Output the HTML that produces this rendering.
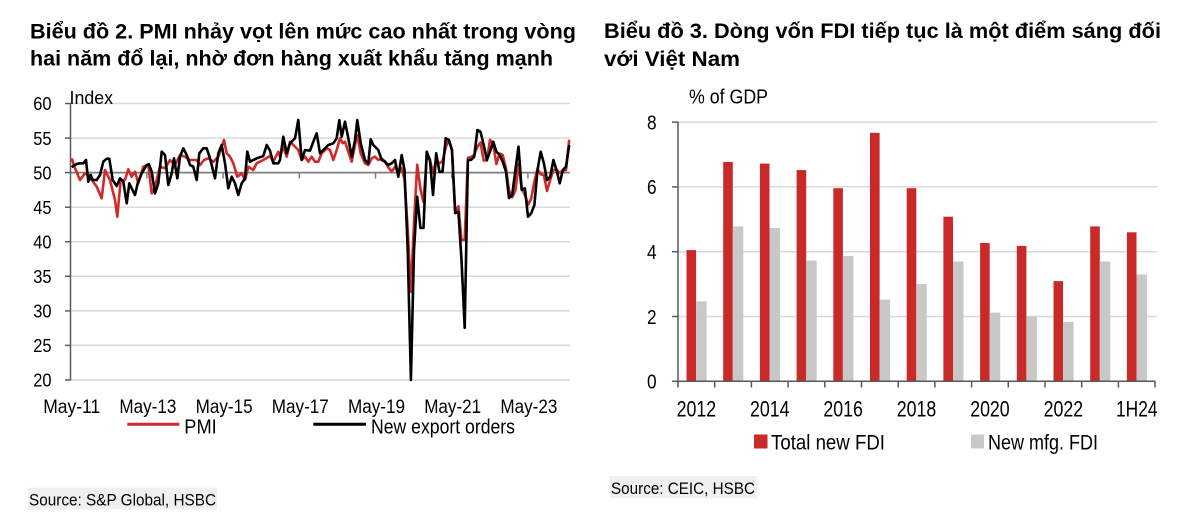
<!DOCTYPE html>
<html><head><meta charset="utf-8"><style>
html,body{margin:0;padding:0;background:#fff;}
svg{display:block;}
text{font-family:"Liberation Sans","DejaVu Sans",sans-serif;fill:#000;}
.t{font-weight:bold;font-size:21px;}
</style></head><body>
<svg width="1200" height="522" viewBox="0 0 1200 522" xmlns="http://www.w3.org/2000/svg">
<rect width="1200" height="522" fill="#fff"/>
<!-- Titles -->
<text class="t" x="30" y="38.3" textLength="546" lengthAdjust="spacingAndGlyphs">Biểu đồ 2. PMI nhảy vọt lên mức cao nhất trong vòng</text>
<text class="t" x="30" y="65.5" textLength="523" lengthAdjust="spacingAndGlyphs">hai năm đổ lại, nhờ đơn hàng xuất khẩu tăng mạnh</text>
<text class="t" x="604" y="38" textLength="557" lengthAdjust="spacingAndGlyphs">Biểu đồ 3. Dòng vốn FDI tiếp tục là một điểm sáng đối</text>
<text class="t" x="604" y="66" textLength="136" lengthAdjust="spacingAndGlyphs">với Việt Nam</text>

<!-- LEFT CHART -->
<g stroke="#d9d9d9" stroke-width="1.5">
<line x1="71" y1="103.5" x2="570" y2="103.5"/>
<line x1="71" y1="138.1" x2="570" y2="138.1"/>
<line x1="71" y1="207.2" x2="570" y2="207.2"/>
<line x1="71" y1="241.7" x2="570" y2="241.7"/>
<line x1="71" y1="276.3" x2="570" y2="276.3"/>
<line x1="71" y1="310.9" x2="570" y2="310.9"/>
<line x1="71" y1="345.4" x2="570" y2="345.4"/>
<line x1="71" y1="380" x2="570" y2="380"/>
</g>
<line x1="71" y1="172.6" x2="570" y2="172.6" stroke="#7f7f7f" stroke-width="1.7"/>
<g stroke="#595959" stroke-width="1.5">
<line x1="70.5" y1="103" x2="70.5" y2="380.5"/>
<line x1="65" y1="103.5" x2="70.5" y2="103.5"/>
<line x1="65" y1="138.1" x2="70.5" y2="138.1"/>
<line x1="65" y1="172.6" x2="70.5" y2="172.6"/>
<line x1="65" y1="207.2" x2="70.5" y2="207.2"/>
<line x1="65" y1="241.7" x2="70.5" y2="241.7"/>
<line x1="65" y1="276.3" x2="70.5" y2="276.3"/>
<line x1="65" y1="310.9" x2="70.5" y2="310.9"/>
<line x1="65" y1="345.4" x2="70.5" y2="345.4"/>
<line x1="65" y1="380" x2="70.5" y2="380"/>
</g>
<g stroke="#7f7f7f" stroke-width="1.5">
<line x1="146.9" y1="172.6" x2="146.9" y2="178.5"/>
<line x1="223.1" y1="172.6" x2="223.1" y2="178.5"/>
<line x1="299.3" y1="172.6" x2="299.3" y2="178.5"/>
<line x1="375.5" y1="172.6" x2="375.5" y2="178.5"/>
<line x1="451.7" y1="172.6" x2="451.7" y2="178.5"/>
<line x1="527.9" y1="172.6" x2="527.9" y2="178.5"/>
</g>
<g font-size="18.5">
<text x="33.2" y="110.2" textLength="18.3" lengthAdjust="spacingAndGlyphs">60</text>
<text x="33.2" y="144.8" textLength="18.3" lengthAdjust="spacingAndGlyphs">55</text>
<text x="33.2" y="179.3" textLength="18.3" lengthAdjust="spacingAndGlyphs">50</text>
<text x="33.2" y="213.9" textLength="18.3" lengthAdjust="spacingAndGlyphs">45</text>
<text x="33.2" y="248.4" textLength="18.3" lengthAdjust="spacingAndGlyphs">40</text>
<text x="33.2" y="283.0" textLength="18.3" lengthAdjust="spacingAndGlyphs">35</text>
<text x="33.2" y="317.6" textLength="18.3" lengthAdjust="spacingAndGlyphs">30</text>
<text x="33.2" y="352.1" textLength="18.3" lengthAdjust="spacingAndGlyphs">25</text>
<text x="33.2" y="386.7" textLength="18.3" lengthAdjust="spacingAndGlyphs">20</text>
<text x="69.5" y="104" textLength="43.5" lengthAdjust="spacingAndGlyphs">Index</text>
</g>
<g font-size="19.5">
<text x="43.2" y="413" textLength="57" lengthAdjust="spacingAndGlyphs">May-11</text>
<text x="119.4" y="413" textLength="57" lengthAdjust="spacingAndGlyphs">May-13</text>
<text x="195.6" y="413" textLength="57" lengthAdjust="spacingAndGlyphs">May-15</text>
<text x="271.8" y="413" textLength="57" lengthAdjust="spacingAndGlyphs">May-17</text>
<text x="348" y="413" textLength="57" lengthAdjust="spacingAndGlyphs">May-19</text>
<text x="424.2" y="413" textLength="57" lengthAdjust="spacingAndGlyphs">May-21</text>
<text x="500.4" y="413" textLength="57" lengthAdjust="spacingAndGlyphs">May-23</text>
</g>
<!-- series -->
<polyline fill="none" stroke="#d12a2a" stroke-width="2.6" stroke-linejoin="round" points="71.7,158.3 75,168.3 80,180 85,173.3 88.3,175 91.7,180 96.7,186.7 101.7,198.3 105,170 110,180 115,200 117.3,216.7 120.7,180 125,180 128.3,169.3 131.7,176.7 135,171.7 138.3,183.3 143.3,166.7 148.3,165 151.7,193.3 155,186.7 160,166.7 165,168.3 170,160 175,165 180,155 185,156.7 190,160 196.7,160 200,165 204,160 208.3,158.3 213.3,161.7 218.3,156.7 224,140 226.7,153.3 230,156.7 233.3,163.3 237.3,176.7 241.7,173.3 245,180 248.3,166.7 253.3,170 256.7,163.3 263.3,160 270,156 273.3,161.7 278.3,151.7 280,156.7 283.3,146.7 286.7,156.7 290,141.7 293.3,145 298.3,150 301.7,160 305,156.7 308.3,161.7 311.7,156.7 315,161.7 318.3,161.7 321.7,153.3 326.7,148.3 330,150 333.3,160 336.7,150 340,138.3 342.7,143.3 345,141.7 348.3,151.7 351.7,161.7 355,145 357.3,135 360.7,153.3 365,163.3 368.3,165 371.7,158.3 375,156.7 378.3,160 381.7,158.3 385,161.7 388.3,167.3 391.7,171.7 395,166.7 398.3,173.3 401.4,168.1 404.5,179.2 407.7,228.3 410.9,292 414,222.8 417.2,164.7 420.4,188.9 423.5,202.1 426.7,157.1 429.9,159.8 433,173 436.2,160.5 439.4,163.3 442.5,161.2 445.7,147.4 448.9,139.8 452,150.8 455.2,213.1 458.4,206.2 461.5,240.1 464.7,240.1 467.9,157.8 471,157.1 474.2,155 477.4,146.7 480.5,142.5 483.7,160.5 486.9,160.5 490,139.8 493.2,144.6 496.4,164 499.5,153.6 502.7,155 505.9,168.1 509,190.3 512.2,197.2 515.4,190.3 518.5,164 521.7,188.2 524.9,195.1 528,204.8 531.2,198.6 534.4,181.3 537.5,168.8 540.7,174.4 543.9,175.1 547,191 550.2,179.9 553.4,170.2 556.5,169.5 559.7,173 562.9,170.2 566,170.2 569.2,139.8"/>
<polyline fill="none" stroke="#000" stroke-width="2.6" stroke-linejoin="round" points="71.7,167.3 73.3,166 76.7,164 80,163.3 83.3,163.3 86,160 88.3,181.7 90.7,175 92.7,180 96.7,180 100,175 103.3,161.7 106.7,158.7 109.3,158.7 112.7,180 116.7,186 120,178.3 123.3,181.7 126.7,203.3 129.3,183.3 131.7,188.3 135,195 137.7,183.3 141.7,173.3 146.7,165 149,164.3 151.7,171.7 155,193.3 158.3,183.3 161.7,151.7 165,155 168.3,185 171.7,173.3 174,158.3 177.3,178.3 180,156.7 183.3,148.3 186.7,155 190,165 193.3,166.7 196.7,180 199.3,153.3 203.3,148.3 206.7,148.3 210,158.3 215,178.3 218.3,153.3 221.7,145 225,163.3 228.3,188.3 231.7,176.7 235,183.3 238.3,195 241.7,183.3 245,178.3 247.3,151.7 250,161.7 253.3,160 256.7,158.3 260,157.3 263.3,156 266.7,145 270,150.7 273.3,163.3 278.3,163.3 280,160 283.3,136.7 286.7,153.3 290,143.3 295,138.3 298.3,120 301.7,160 305,150 310,150.7 313.3,141.7 316.7,133.3 320,153.3 323.3,150 328.3,145 333.3,143.3 336.7,138.3 339.3,120 341.7,136.7 345,121.7 348.3,138.3 351.7,156.7 355,140 357.3,120 360.7,143.3 365,160 368.3,163.3 370.7,139.3 373.3,145 378.3,150 381.7,160 385,161.7 388.3,165 391.7,163.3 395,160 398.3,176.7 401.7,155 404.5,170 407.7,250 410.9,380 414,250 417.2,196.7 420.4,228 423.5,228 426.7,151.7 429.9,160 433,195 436.2,153.3 439.4,171.7 442.5,171.7 445.7,138.3 448.9,140 452,150 455.2,213 458.4,212 461.5,260 464.7,328 467.9,160 471,160 474.2,156.7 477.4,130 480.5,131.7 483.7,145 486.9,160 490,151.7 493.2,141.7 496.4,151.7 499.6,155 502.7,161.7 506,171.7 509,198 512.2,195 515.4,170 518.5,146.7 521.7,190 524.9,188.3 528,216.7 531.2,213.3 534.4,205 537.5,170 540.7,151.7 543.9,163.3 547,180 550.2,176.7 553.4,160 556.5,170 559.7,183.3 562.9,170 566,166.7 569.2,145"/>
<!-- left legend -->
<line x1="127.3" y1="424.3" x2="179.3" y2="424.3" stroke="#d12a2a" stroke-width="3"/>
<text x="184.3" y="433.3" font-size="20" textLength="32.4" lengthAdjust="spacingAndGlyphs">PMI</text>
<line x1="313.3" y1="424.3" x2="366" y2="424.3" stroke="#000" stroke-width="3"/>
<text x="371" y="433.3" font-size="20" textLength="144" lengthAdjust="spacingAndGlyphs">New export orders</text>
<!-- left source -->
<rect x="28" y="487.5" width="189" height="22" fill="#f0f0f0"/>
<text x="29" y="505.5" font-size="17" textLength="187" lengthAdjust="spacingAndGlyphs">Source: S&amp;P Global, HSBC</text>

<!-- RIGHT CHART -->
<g stroke="#d9d9d9" stroke-width="1.5">
<line x1="678" y1="122.1" x2="1157" y2="122.1"/>
<line x1="678" y1="186.9" x2="1157" y2="186.9"/>
<line x1="678" y1="251.7" x2="1157" y2="251.7"/>
<line x1="678" y1="316.5" x2="1157" y2="316.5"/>
</g>
<g fill="#c92a27">
<rect x="686.5" y="250.1" width="9.6" height="131.2"/>
<rect x="723.2" y="162.0" width="9.6" height="219.3"/>
<rect x="759.9" y="163.6" width="9.6" height="217.7"/>
<rect x="796.6" y="170.1" width="9.6" height="211.2"/>
<rect x="833.3" y="188.2" width="9.6" height="193.1"/>
<rect x="870.0" y="132.8" width="9.6" height="248.5"/>
<rect x="906.7" y="188.2" width="9.6" height="193.1"/>
<rect x="943.4" y="216.7" width="9.6" height="164.6"/>
<rect x="980.1" y="243.0" width="9.6" height="138.3"/>
<rect x="1016.8" y="245.9" width="9.6" height="135.4"/>
<rect x="1053.5" y="281.1" width="9.6" height="100.2"/>
<rect x="1090.2" y="226.4" width="9.6" height="154.9"/>
<rect x="1126.9" y="232.3" width="9.6" height="149.0"/>
</g>
<g fill="#c8c8c8">
<rect x="696.1" y="301.3" width="10.5" height="80.0"/>
<rect x="732.8" y="226.4" width="10.5" height="154.9"/>
<rect x="769.5" y="228.0" width="10.5" height="153.3"/>
<rect x="806.2" y="260.5" width="10.5" height="120.8"/>
<rect x="842.9" y="255.9" width="10.5" height="125.4"/>
<rect x="879.6" y="299.6" width="10.5" height="81.7"/>
<rect x="916.3" y="284.1" width="10.5" height="97.2"/>
<rect x="953.0" y="261.5" width="10.5" height="119.8"/>
<rect x="989.7" y="312.6" width="10.5" height="68.7"/>
<rect x="1026.4" y="316.5" width="10.5" height="64.8"/>
<rect x="1063.1" y="322.0" width="10.5" height="59.3"/>
<rect x="1099.8" y="261.5" width="10.5" height="119.8"/>
<rect x="1136.5" y="274.4" width="10.5" height="106.9"/>
</g>
<g stroke="#595959" stroke-width="1.5">
<line x1="678" y1="121.5" x2="678" y2="381.3"/>
<line x1="672" y1="122.1" x2="678" y2="122.1"/>
<line x1="672" y1="186.9" x2="678" y2="186.9"/>
<line x1="672" y1="251.7" x2="678" y2="251.7"/>
<line x1="672" y1="316.5" x2="678" y2="316.5"/>
<line x1="672" y1="381.3" x2="678" y2="381.3"/>
<line x1="678" y1="381.3" x2="1155.5" y2="381.3"/>
<line x1="678" y1="381.3" x2="678" y2="387.5"/>
<line x1="714.7" y1="381.3" x2="714.7" y2="387.5"/>
<line x1="751.4" y1="381.3" x2="751.4" y2="387.5"/>
<line x1="788.1" y1="381.3" x2="788.1" y2="387.5"/>
<line x1="824.8" y1="381.3" x2="824.8" y2="387.5"/>
<line x1="861.5" y1="381.3" x2="861.5" y2="387.5"/>
<line x1="898.2" y1="381.3" x2="898.2" y2="387.5"/>
<line x1="934.9" y1="381.3" x2="934.9" y2="387.5"/>
<line x1="971.6" y1="381.3" x2="971.6" y2="387.5"/>
<line x1="1008.3" y1="381.3" x2="1008.3" y2="387.5"/>
<line x1="1045" y1="381.3" x2="1045" y2="387.5"/>
<line x1="1081.7" y1="381.3" x2="1081.7" y2="387.5"/>
<line x1="1118.4" y1="381.3" x2="1118.4" y2="387.5"/>
<line x1="1155" y1="381.3" x2="1155" y2="387.5"/>
</g>
<g font-size="20.5">
<text x="647" y="129.4" textLength="9.6" lengthAdjust="spacingAndGlyphs">8</text>
<text x="647" y="194.2" textLength="9.6" lengthAdjust="spacingAndGlyphs">6</text>
<text x="647" y="259" textLength="9.6" lengthAdjust="spacingAndGlyphs">4</text>
<text x="647" y="323.8" textLength="9.6" lengthAdjust="spacingAndGlyphs">2</text>
<text x="647" y="388.6" textLength="9.6" lengthAdjust="spacingAndGlyphs">0</text>
<text x="689" y="103.5" textLength="79" lengthAdjust="spacingAndGlyphs">% of GDP</text>
</g>
<g font-size="22">
<text x="676.6" y="416.5" textLength="39.5" lengthAdjust="spacingAndGlyphs">2012</text>
<text x="750" y="416.5" textLength="39.5" lengthAdjust="spacingAndGlyphs">2014</text>
<text x="823.4" y="416.5" textLength="39.5" lengthAdjust="spacingAndGlyphs">2016</text>
<text x="896.8" y="416.5" textLength="39.5" lengthAdjust="spacingAndGlyphs">2018</text>
<text x="970.2" y="416.5" textLength="39.5" lengthAdjust="spacingAndGlyphs">2020</text>
<text x="1043.6" y="416.5" textLength="39.5" lengthAdjust="spacingAndGlyphs">2022</text>
<text x="1116" y="416.5" textLength="41.5" lengthAdjust="spacingAndGlyphs">1H24</text>
</g>
<!-- right legend -->
<rect x="754" y="434.5" width="13.5" height="14" fill="#c92a27"/>
<text x="771" y="449.3" font-size="21" textLength="114" lengthAdjust="spacingAndGlyphs">Total new FDI</text>
<rect x="971" y="434.5" width="13" height="14" fill="#c8c8c8"/>
<text x="988" y="449.3" font-size="21" textLength="110" lengthAdjust="spacingAndGlyphs">New mfg. FDI</text>
<!-- right source -->
<rect x="609.6" y="476" width="147.4" height="22.3" fill="#f0f0f0"/>
<text x="611" y="494" font-size="17" textLength="144" lengthAdjust="spacingAndGlyphs">Source: CEIC, HSBC</text>
</svg>
</body></html>
